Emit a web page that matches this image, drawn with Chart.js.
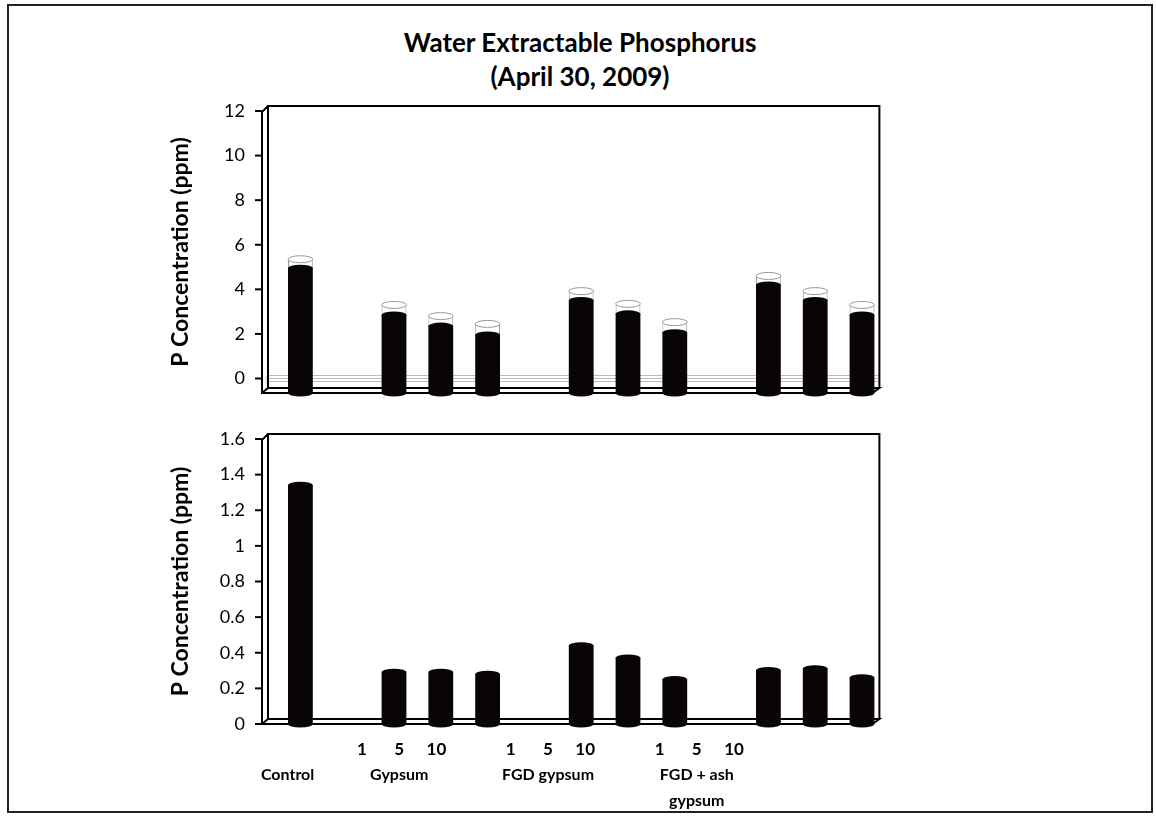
<!DOCTYPE html>
<html>
<head>
<meta charset="utf-8">
<script src="https://cdn.jsdelivr.net/npm/chart.js@4"></script>
<style>
body{margin:0;background:#fff;font-family:Lato,"Open Sans",sans-serif;}
#frame{position:absolute;left:7px;top:4px;width:1146px;height:809px;border:2px solid #222;box-sizing:border-box;}
#title{position:absolute;left:330px;width:500px;top:25px;text-align:center;font:bold 26px Lato,sans-serif;line-height:34px;color:#000;}
.wrap{position:absolute;left:0;width:1156px;}
</style>
</head>
<body>
<div id="frame"></div>
<div id="title">Water Extractable Phosphorus<br>(April 30, 2009)</div>
<div class="wrap" style="top:0;height:420px"><canvas id="topChart"></canvas></div>
<div class="wrap" style="top:420px;height:396px"><canvas id="bottomChart"></canvas></div>
<script>
// 13 slots: control, gap, gypsum 1/5/10, gap, FGD 1/5/10, gap, FGD+ash 1/5/10
const slots = ["Control","","Gypsum 1","Gypsum 5","Gypsum 10","","FGD 1","FGD 5","FGD 10","","Ash 1","Ash 5","Ash 10"];
const rateLabels = ["","","1","5","10","","1","5","10","","1","5","10"];
const groupLabels = ["Control","","","Gypsum","","","","FGD gypsum","","","",["FGD + ash","gypsum"],""];

// top panel: mean (black) and the white cap stacked on it
const topMean = [4.95,null,2.85,2.35,1.95,null,3.5,2.9,2.05,null,4.2,3.5,2.85];
const topCap  = [0.4,null,0.45,0.45,0.5,null,0.42,0.45,0.48,null,0.4,0.42,0.45];
const topTicks = [0,2,4,6,8,10,12];

// bottom panel
const bottomVals = [1.34,null,0.29,0.29,0.28,null,0.44,0.37,0.25,null,0.30,0.31,0.26];
const bottomTicks = [0,0.2,0.4,0.6,0.8,1,1.2,1.4,1.6];

const FONT = "Lato";

/* ---------------- 3D box + cylinder caps ---------------- */
const boxPlugin = {
  id:"box3d",
  beforeDatasetsDraw(chart){
    const {ctx, chartArea:a, scales:{y}} = chart;
    const fx = a.left-15, bx = a.left-9, rx = a.right-6, frx = a.right-13;
    const top = a.top-5, bot = a.bottom, back = a.bottom-5;
    ctx.save();
    // zero lines on the back wall
    if(chart.options.zeroLines){
      const z = y.getPixelForValue(0);
      ctx.strokeStyle="#bbb"; ctx.lineWidth=1;
      [-3,0,3].forEach(d=>{
        ctx.beginPath(); ctx.moveTo(bx-3,z+d+3); ctx.lineTo(bx,z+d); ctx.lineTo(rx,z+d); ctx.stroke();
      });
    }
    ctx.strokeStyle="#000"; ctx.lineWidth=2;
    ctx.beginPath();
    ctx.moveTo(bx,back); ctx.lineTo(bx,top); ctx.lineTo(rx,top); ctx.lineTo(rx,back);
    ctx.moveTo(fx,top+6); ctx.lineTo(bx,top);
    ctx.moveTo(fx,top+6); ctx.lineTo(fx,bot);
    ctx.lineTo(frx,bot); ctx.lineTo(rx,back); ctx.lineTo(bx,back); ctx.lineTo(fx,bot);
    ctx.stroke();
    // y ticks on the front axis
    y.ticks.forEach(t=>{
      const py = y.getPixelForValue(t.value);
      ctx.beginPath(); ctx.moveTo(fx-7,py); ctx.lineTo(fx,py); ctx.stroke();
    });
    ctx.restore();
  },
  afterDatasetsDraw(chart){
    const ctx = chart.ctx;
    ctx.save();
    chart.data.datasets.forEach((ds,di)=>{
      const meta = chart.getDatasetMeta(di);
      meta.data.forEach((bar,i)=>{
        if(ds.data[i]==null) return;
        const w = bar.width/2, ry = 3.5;
        ctx.beginPath();
        ctx.ellipse(bar.x, bar.y, w, ry, 0, 0, Math.PI*2);
        if(ds.cap){
          ctx.fillStyle="#fff"; ctx.fill();
          ctx.strokeStyle="#999"; ctx.lineWidth=1; ctx.stroke();
        }else{
          ctx.fillStyle="#0a0505"; ctx.fill();
          ctx.beginPath();
          ctx.ellipse(bar.x, bar.base, w, ry, 0, 0, Math.PI);
          ctx.fill();
        }
      });
    });
    ctx.restore();
  }
};

// label axes sit on a narrower span than the bars
const labelAxisPlugin = {
  id:"labelAxes",
  afterLayout(chart){
    ["xn","xg"].forEach(id=>{
      const s = chart.scales[id];
      s.left = chart.chartArea.left-8;
      s.right = s.left + 13*37.2;
      s.width = s.right - s.left;
      s.configure();
    });
  }
};

function noPad(s){ s.paddingTop = 0; s.paddingBottom = 0; s.paddingLeft = 0; s.paddingRight = 0; }

function yAxis(ticks, min, max){
  return {
    min:min, max:max,
    afterBuildTicks: s => { s.ticks = ticks.map(v=>({value:v})); },
    afterFit: s => { s.width = 117; noPad(s); },
    grid:{display:false, drawTicks:false},
    border:{display:false},
    ticks:{padding:32, color:"#000", font:{family:FONT,size:18}, callback: v => String(v)},
    title:{display:true, text:"P Concentration (ppm)", color:"#000",
      font:{family:FONT,size:23,weight:"bold"}, padding:{top:7,bottom:0}}
  };
}

Chart.defaults.animation = false;
Chart.defaults.font.family = FONT;

new Chart(document.getElementById("topChart"),{
  type:"bar",
  data:{
    labels:slots,
    datasets:[
      {data:topMean, backgroundColor:"#0a0505", base:-0.65, barPercentage:0.53, categoryPercentage:1},
      {data:topCap, cap:true, backgroundColor:"#fff", borderColor:"#999", borderWidth:1,
        borderSkipped:"bottom", barPercentage:0.53, categoryPercentage:1}
    ]
  },
  options:{
    responsive:true, maintainAspectRatio:false,
    zeroLines:true,
    layout:{padding:{left:160,right:270.6,top:111,bottom:27}},
    plugins:{legend:{display:false}, tooltip:{enabled:false}},
    scales:{
      x:{display:false, stacked:true},
      y:Object.assign(yAxis(topTicks,-0.65,12),{stacked:true})
    }
  },
  plugins:[boxPlugin]
});

new Chart(document.getElementById("bottomChart"),{
  type:"bar",
  data:{
    labels:slots,
    datasets:[
      {data:bottomVals, backgroundColor:"#0a0505", barPercentage:0.53, categoryPercentage:1}
    ]
  },
  options:{
    responsive:true, maintainAspectRatio:false,
    layout:{padding:{left:160,right:270.6,top:19,bottom:0}},
    plugins:{legend:{display:false}, tooltip:{enabled:false}},
    scales:{
      x:{display:false},
      xn:{type:"category", position:"bottom", labels:rateLabels,
        afterFit: s => { s.height = 36; noPad(s); },
        grid:{display:false, drawTicks:false}, border:{display:false},
        ticks:{padding:15, color:"#000", autoSkip:false, maxRotation:0, font:{family:FONT,size:17,weight:"bold"}}},
      xg:{type:"category", position:"bottom", labels:groupLabels,
        afterFit: s => { s.height = 56; noPad(s); },
        grid:{display:false, drawTicks:false}, border:{display:false},
        ticks:{padding:2, color:"#000", autoSkip:false, maxRotation:0, font:{family:FONT,size:16,weight:"bold",lineHeight:1.6}}},
      y:yAxis(bottomTicks,0,1.6)
    }
  },
  plugins:[boxPlugin, labelAxisPlugin]
});
</script>
</body>
</html>
